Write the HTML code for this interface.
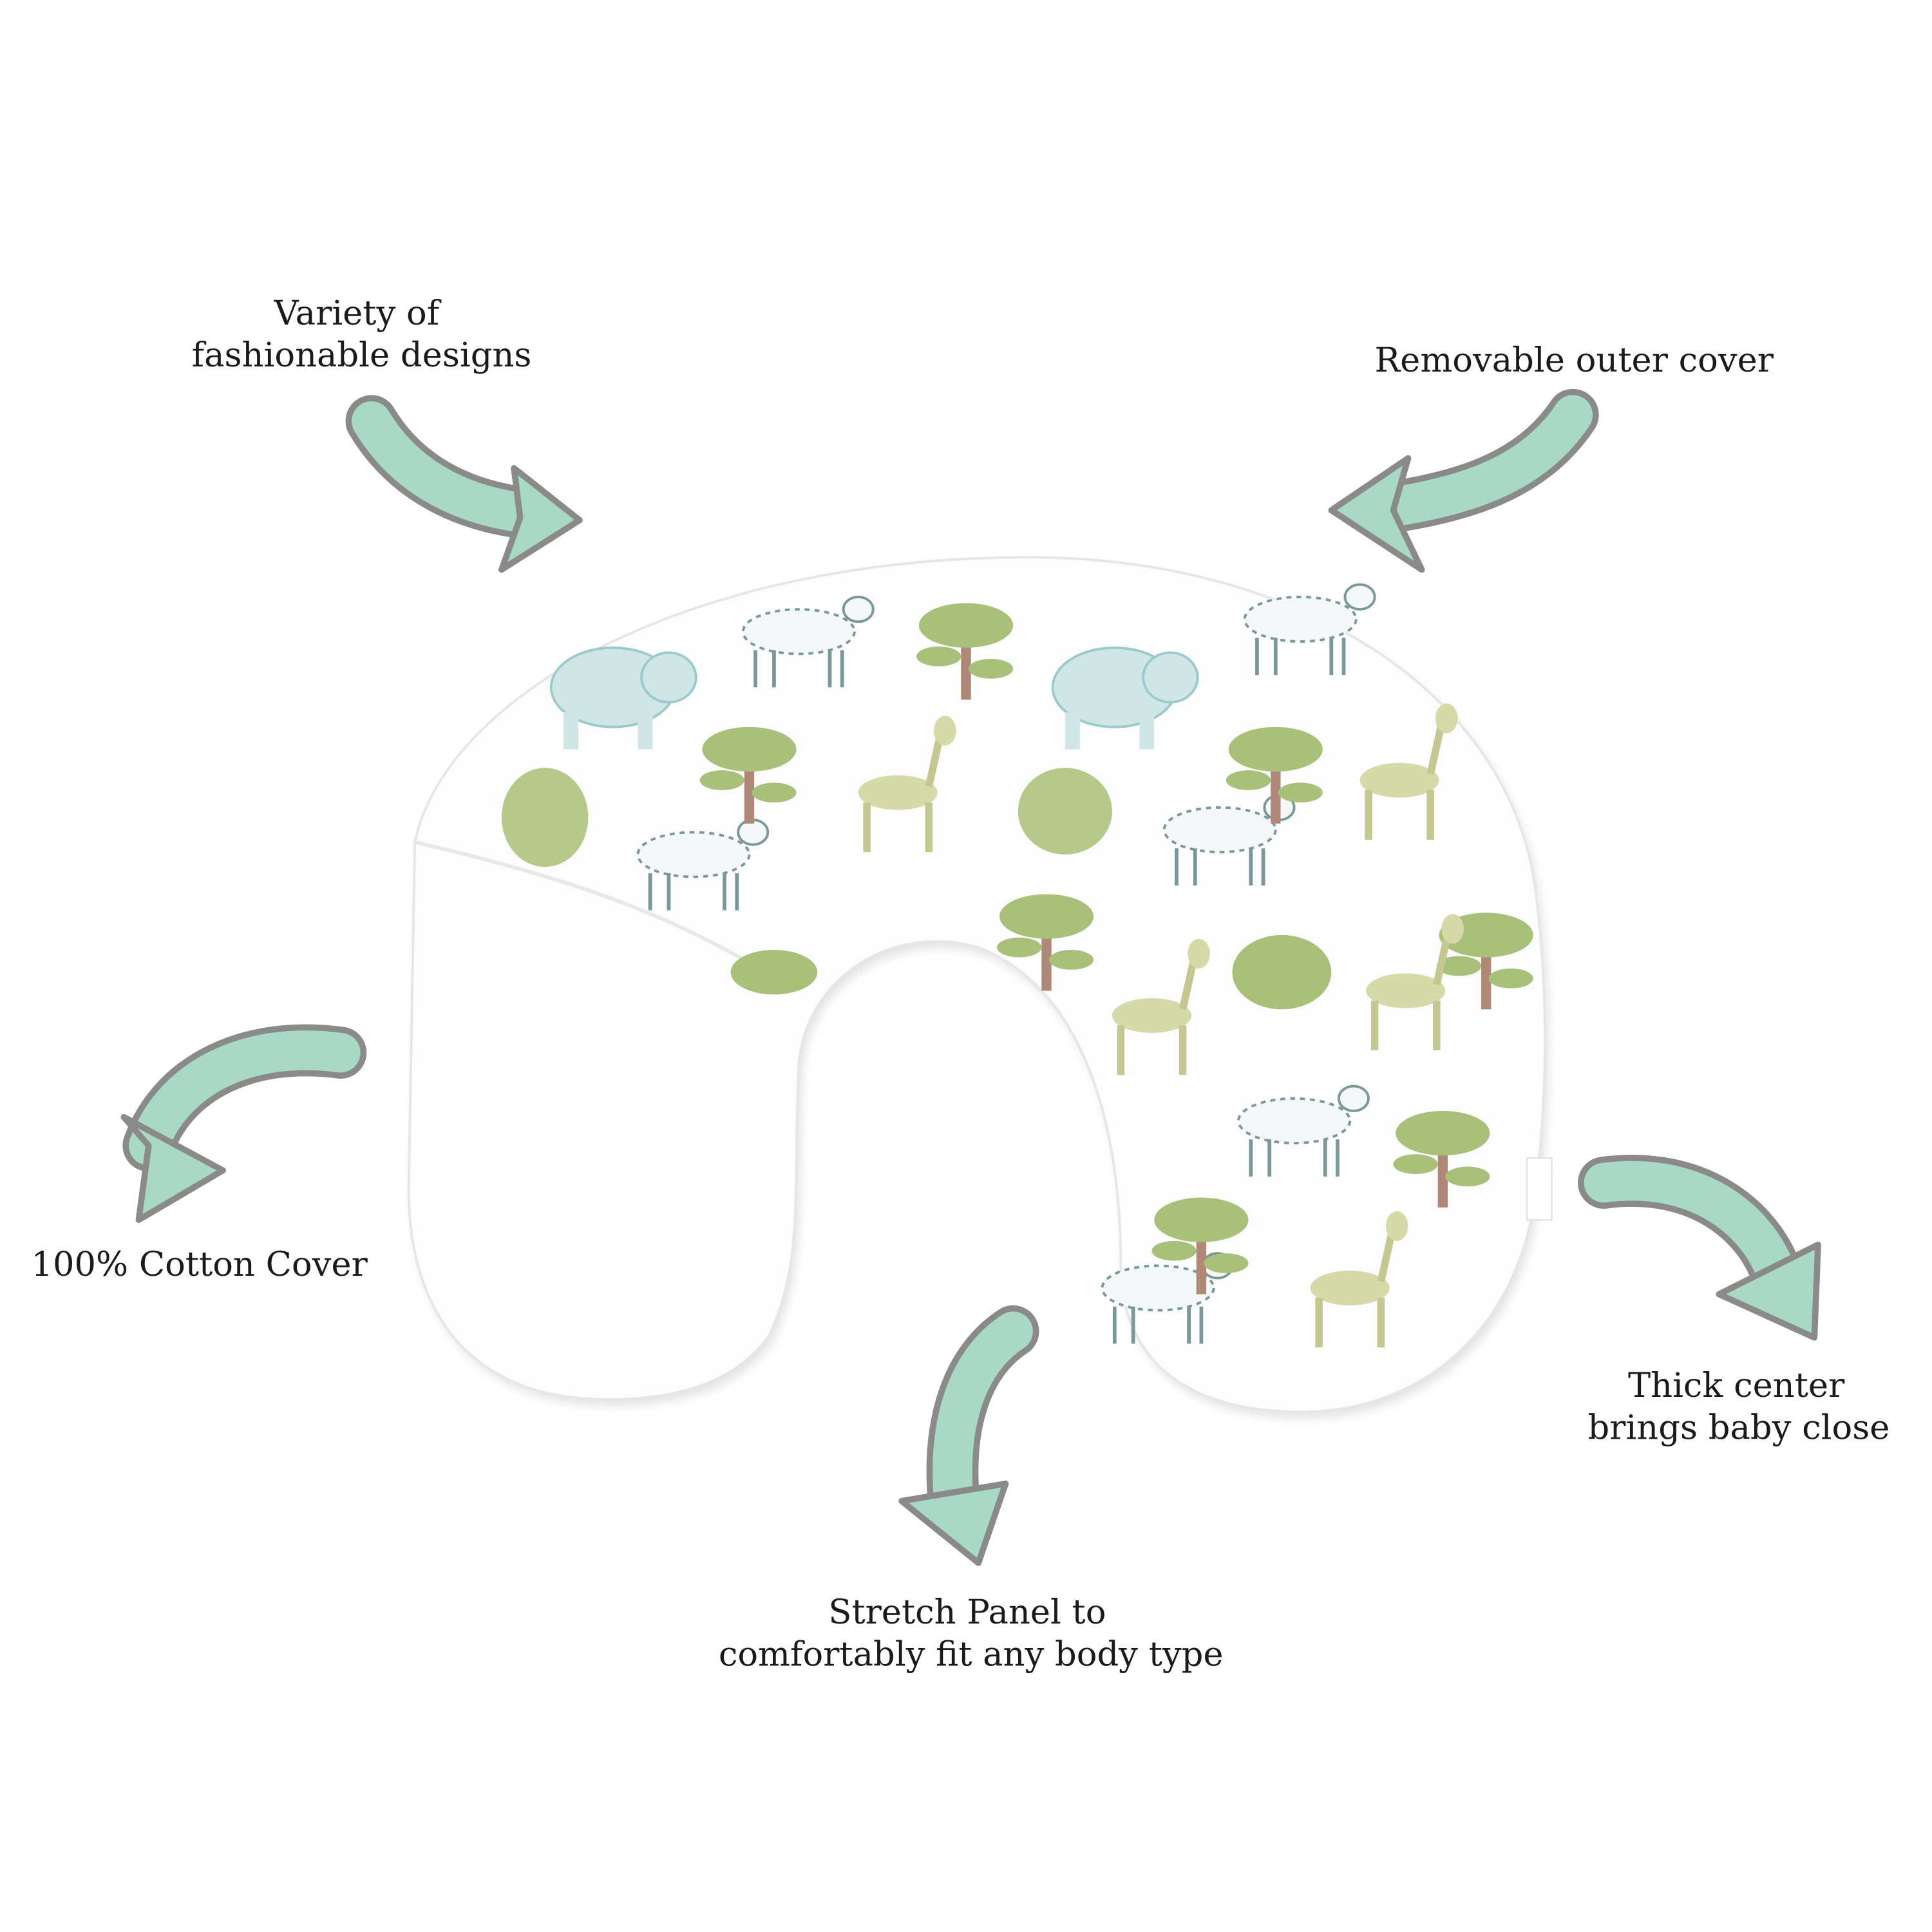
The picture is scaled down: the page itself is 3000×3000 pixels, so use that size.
<!DOCTYPE html>
<html><head><meta charset="utf-8"><style>
html,body{margin:0;padding:0;background:#fff}
svg{display:block}
text{font-family:"DejaVu Serif","Liberation Serif",serif;font-size:27.4px;fill:#1a1a1a}
</style></head><body>
<svg width="3000" height="3000" viewBox="0 0 1560 1560" xmlns="http://www.w3.org/2000/svg">
<defs>
<filter id="sh" x="-10%" y="-10%" width="120%" height="120%"><feGaussianBlur stdDeviation="4"/></filter>
<g id="tree"><rect x="-4" y="0" width="8" height="55" fill="#b08878"/><ellipse cx="0" cy="-5" rx="38" ry="18" fill="#a9c07a"/><ellipse cx="-22" cy="20" rx="18" ry="8" fill="#a9c07a"/><ellipse cx="20" cy="30" rx="18" ry="8" fill="#a9c07a"/></g>
<g id="ele"><ellipse cx="0" cy="0" rx="50" ry="32" fill="#cfe6e6" stroke="#9cc9cc" stroke-width="2"/><ellipse cx="45" cy="-8" rx="22" ry="20" fill="#cfe6e6" stroke="#9cc9cc" stroke-width="2"/><rect x="-40" y="20" width="12" height="30" fill="#cfe6e6"/><rect x="20" y="20" width="12" height="30" fill="#cfe6e6"/></g>
<g id="zeb"><ellipse cx="0" cy="0" rx="45" ry="18" fill="#f4f7f7" stroke="#7a9898" stroke-width="2" stroke-dasharray="4 4"/><ellipse cx="48" cy="-18" rx="12" ry="10" fill="#f4f7f7" stroke="#7a9898" stroke-width="2"/><path d="M-35 15v30M-20 15v30M25 15v30M35 15v30" stroke="#7a9898" stroke-width="3"/></g>
<g id="deer"><ellipse cx="0" cy="0" rx="32" ry="14" fill="#d6d9a8"/><path d="M-25 8v40M25 8v40M25 -5l10 -45" stroke="#c4c890" stroke-width="6"/><ellipse cx="38" cy="-50" rx="9" ry="12" fill="#d6d9a8"/></g>
</defs>
<path d="M335 680 C360 560 560 450 830 450 C1050 450 1220 560 1240 720 C1250 800 1250 880 1240 960 C1230 1060 1160 1140 1050 1140 C960 1140 905 1100 905 1020 C905 920 880 800 790 765 C720 745 650 790 645 860 C640 960 650 1020 620 1080 C590 1120 540 1130 490 1130 C380 1130 330 1060 330 960 Z" fill="#e2e2e2" filter="url(#sh)" transform="translate(3,5)"/>
<path d="M335 680 C360 560 560 450 830 450 C1050 450 1220 560 1240 720 C1250 800 1250 880 1240 960 C1230 1060 1160 1140 1050 1140 C960 1140 905 1100 905 1020 C905 920 880 800 790 765 C720 745 650 790 645 860 C640 960 650 1020 620 1080 C590 1120 540 1130 490 1130 C380 1130 330 1060 330 960 Z" fill="#fdfdfd" stroke="#e6e6e6" stroke-width="2"/>
<path d="M335 680 C420 700 540 730 640 800" fill="none" stroke="#e8e8e8" stroke-width="3"/>
<use href="#ele" x="495" y="555"/><use href="#ele" x="900" y="555"/>
<use href="#zeb" x="645" y="510"/><use href="#zeb" x="560" y="690"/><use href="#zeb" x="985" y="670"/><use href="#zeb" x="1045" y="905"/><use href="#zeb" x="935" y="1040"/><use href="#zeb" x="1050" y="500"/>
<use href="#tree" x="780" y="510"/><use href="#tree" x="605" y="610"/><use href="#tree" x="1030" y="610"/><use href="#tree" x="1165" y="920"/><use href="#tree" x="970" y="990"/><use href="#tree" x="1200" y="760"/><use href="#tree" x="845" y="745"/>
<use href="#deer" x="725" y="640"/><use href="#deer" x="1130" y="630"/><use href="#deer" x="930" y="820"/><use href="#deer" x="1090" y="1040"/><use href="#deer" x="1135" y="800"/>
<ellipse cx="440" cy="660" rx="35" ry="40" fill="#b7c98a"/><ellipse cx="860" cy="655" rx="38" ry="35" fill="#b7c98a"/><ellipse cx="1035" cy="785" rx="40" ry="30" fill="#a9c07a"/><ellipse cx="625" cy="785" rx="35" ry="18" fill="#a9c07a"/>
<rect x="1233" y="935" width="20" height="50" fill="#fff" stroke="#ddd"/>
<g fill="none" stroke-linecap="round">
<path d="M300 340 C330 390 380 410 430 415" stroke="#8a8a8a" stroke-width="42"/>
<path d="M300 340 C330 390 380 410 430 415" stroke="#a8d9c7" stroke-width="32"/>
<path d="M1270 335 C1240 380 1190 400 1120 410" stroke="#8a8a8a" stroke-width="42"/>
<path d="M1270 335 C1240 380 1190 400 1120 410" stroke="#a8d9c7" stroke-width="32"/>
<path d="M275 850 C200 840 140 870 120 925" stroke="#8a8a8a" stroke-width="42"/>
<path d="M275 850 C200 840 140 870 120 925" stroke="#a8d9c7" stroke-width="32"/>
<path d="M1295 955 C1370 945 1420 985 1435 1030" stroke="#8a8a8a" stroke-width="42"/>
<path d="M1295 955 C1370 945 1420 985 1435 1030" stroke="#a8d9c7" stroke-width="32"/>
<path d="M818 1075 C780 1100 765 1150 770 1210" stroke="#8a8a8a" stroke-width="42"/>
<path d="M818 1075 C780 1100 765 1150 770 1210" stroke="#a8d9c7" stroke-width="32"/>
</g>
<g fill="#a8d9c7" stroke="#8a8a8a" stroke-width="5" stroke-linejoin="round">
<polygon points="415,378 468,420 405,460 420,418"/>
<polygon points="1137,370 1075,412 1148,460 1125,412"/>
<polygon points="100,902 180,945 112,985 120,925"/>
<polygon points="1388,1045 1468,1005 1465,1080"/>
<polygon points="728,1212 812,1198 790,1262"/>
</g>
<text x="288" y="262" text-anchor="middle">Variety of</text>
<text x="292" y="296" text-anchor="middle">fashionable designs</text>
<text x="1271" y="300" text-anchor="middle">Removable outer cover</text>
<text x="161" y="1030" text-anchor="middle">100% Cotton Cover</text>
<text x="1402" y="1128" text-anchor="middle">Thick center</text>
<text x="1404" y="1162" text-anchor="middle">brings baby close</text>
<text x="781" y="1311" text-anchor="middle">Stretch Panel to</text>
<text x="784" y="1345" text-anchor="middle">comfortably fit any body type</text>
</svg>
</body></html>
